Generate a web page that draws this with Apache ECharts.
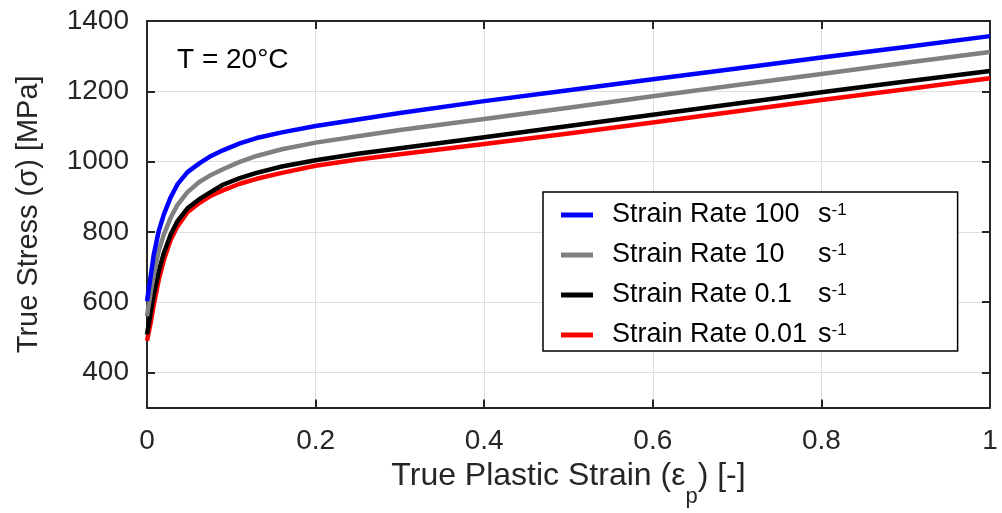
<!DOCTYPE html>
<html>
<head>
<meta charset="utf-8">
<script src="https://cdn.jsdelivr.net/npm/echarts@6/dist/echarts.min.js"></script>
<style>html,body{margin:0;padding:0;background:#fff}#c{width:1002px;height:513px}</style>
</head>
<body>
<div id="c"></div>
<script>
const strain  = [0, 0.004, 0.008, 0.014, 0.02, 0.028, 0.036, 0.048, 0.062, 0.076, 0.09, 0.11, 0.13, 0.16, 0.2, 0.25, 0.3, 0.4, 0.5, 0.6, 0.7, 0.8, 0.9, 1.0];
const rate100 = [603, 668, 735, 803, 850, 898, 935, 970, 995, 1016, 1032, 1052, 1067, 1083, 1101, 1120, 1138, 1172, 1203, 1234, 1265, 1296, 1326, 1357];
const rate10  = [560, 622, 678, 746, 793, 840, 876, 913, 942, 962, 978, 999, 1016, 1035, 1054, 1072, 1090, 1121, 1153, 1186, 1218, 1249, 1281, 1312];
const rate01  = [508, 566, 620, 688, 740, 792, 830, 867, 893, 914, 934, 953, 968, 986, 1004, 1022, 1038, 1069, 1101, 1133, 1165, 1197, 1228, 1258];
const rate001 = [490, 537, 592, 664, 720, 777, 815, 856, 882, 903, 918, 937, 951, 968, 988, 1006, 1021, 1050, 1080, 1111, 1143, 1175, 1206, 1237];
const seriesNames = ['Strain Rate 100', 'Strain Rate 10', 'Strain Rate 0.1', 'Strain Rate 0.01'];
const seriesColors = ['#0000ff', '#808080', '#000000', '#ff0000'];
const xTicks = [0, 0.2, 0.4, 0.6, 0.8, 1];
const yTicks = [400, 600, 800, 1000, 1200, 1400];

const FONT = '"Liberation Sans", Arial, sans-serif';
const values = [rate100, rate10, rate01, rate001];

const chart = echarts.init(document.getElementById('c'), null, {renderer: 'canvas'});
const axisLineStyle = {color: '#262626', width: 2};
const option = {
  animation: false,
  backgroundColor: '#fff',
  grid: {left: 147, right: 12, top: 21, bottom: 105, containLabel: false},
  xAxis: [{
    type: 'value', min: 0, max: 1, position: 'bottom',
    axisLine: {show: true, onZero: false, lineStyle: axisLineStyle},
    axisTick: {show: true, inside: true, length: 8, lineStyle: axisLineStyle, customValues: xTicks},
    axisLabel: {color: '#262626', fontSize: 28, fontFamily: FONT, margin: 20, customValues: xTicks,
      formatter: v => String(v)},
    splitLine: {show: true, lineStyle: {color: '#dedede', width: 1}},
    name: 'True Plastic Strain (ε{sub|p}) [-]',
    nameLocation: 'middle', nameGap: 37,
    nameTextStyle: {color: '#262626', fontSize: 32, fontFamily: FONT,
      rich: {sub: {fontSize: 22, fontFamily: FONT, color: '#262626', padding: [41, 0, 0, 0]}}}
  }, {
    type: 'value', min: 0, max: 1, position: 'top',
    axisLine: {show: true, onZero: false, lineStyle: axisLineStyle},
    axisTick: {show: true, inside: true, length: 8, lineStyle: axisLineStyle, customValues: xTicks},
    axisLabel: {show: false}, splitLine: {show: false}
  }],
  yAxis: [{
    type: 'value', min: 300, max: 1400, position: 'left',
    axisLine: {show: true, onZero: false, lineStyle: axisLineStyle},
    axisTick: {show: true, inside: true, length: 8, lineStyle: axisLineStyle, customValues: yTicks},
    axisLabel: {color: '#262626', fontSize: 28, fontFamily: FONT, margin: 18, customValues: yTicks,
      formatter: v => String(v)},
    splitLine: {show: true, lineStyle: {color: '#dedede', width: 1}},
    name: 'True Stress (σ) [MPa]', nameLocation: 'middle', nameGap: 104, nameRotate: 90,
    nameTextStyle: {color: '#262626', fontSize: 29, fontFamily: FONT}
  }, {
    type: 'value', min: 300, max: 1400, position: 'right',
    axisLine: {show: true, onZero: false, lineStyle: axisLineStyle},
    axisTick: {show: true, inside: true, length: 8, lineStyle: axisLineStyle, customValues: yTicks},
    axisLabel: {show: false}, splitLine: {show: false}
  }],
  legend: {
    orient: 'vertical', left: 543, top: 192,
    padding: [8, 111, 1, 18], itemGap: 10,
    backgroundColor: '#fff', borderColor: '#000', borderWidth: 1.5, borderRadius: 0,
    icon: 'rect', itemWidth: 32, itemHeight: 5,
    data: seriesNames,
    formatter: n => '{a|' + n + '}{s|s}{sup|-1}',
    textStyle: {
      color: '#000', fontSize: 27, fontFamily: FONT, lineHeight: 30, padding: [0, 0, 0, 14],
      rich: {
        a: {fontSize: 27, fontFamily: FONT, color: '#000', width: 206},
        s: {fontSize: 27, fontFamily: FONT, color: '#000'},
        sup: {fontSize: 17, fontFamily: FONT, color: '#000', padding: [0, 0, 10, 0]}
      }
    }
  },
  graphic: [{
    type: 'text', left: 177, top: 46,
    style: {text: 'T = 20°C', fill: '#000', font: '28px ' + FONT}
  }],
  series: values.map((vals, i) => ({
    name: seriesNames[i], type: 'line', xAxisIndex: 0, yAxisIndex: 0,
    data: strain.map((x, j) => [x, vals[j]]),
    smooth: false, showSymbol: false, symbol: 'none',
    lineStyle: {color: seriesColors[i], width: 4.5, join: 'round', cap: 'butt'},
    itemStyle: {color: seriesColors[i]},
    z: 10 - i
  }))
};
chart.setOption(option);
</script>
</body>
</html>
